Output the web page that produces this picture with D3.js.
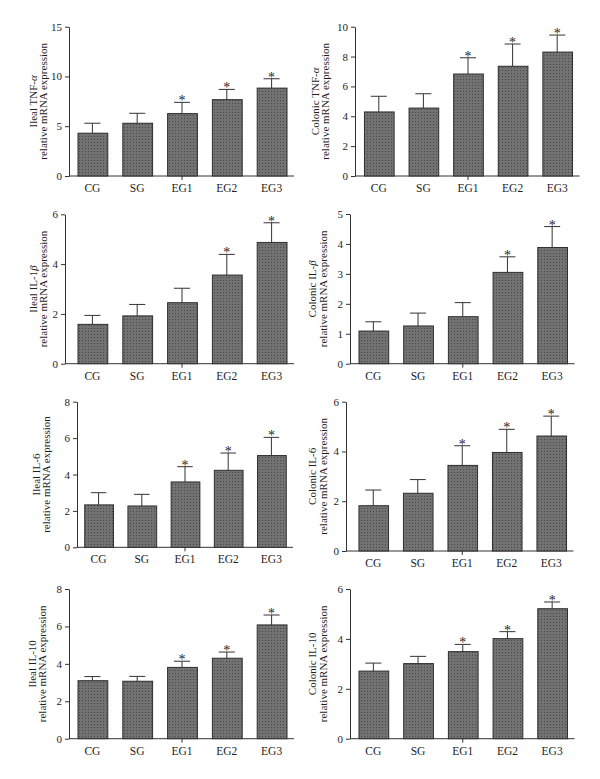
<!DOCTYPE html>
<html>
<head>
<meta charset="utf-8">
<script src="https://cdn.jsdelivr.net/npm/d3@7"></script>
<style>
html,body{margin:0;padding:0;background:#fff;}
svg{display:block;}
text{font-family:"Liberation Serif","Times New Roman",serif;fill:#1e1e1e;}
</style>
</head>
<body>
<svg id="chart" width="600" height="779"></svg>
<script>
// ---------------- data ----------------
const categories = ["CG", "SG", "EG1", "EG2", "EG3"];

const ilealTNF      = [4.30, 5.30, 6.27, 7.67, 8.83];
const ilealTNFSD    = [1.00, 1.00, 1.13, 1.03, 0.94];
const ilealTNFSig   = [false, false, true, true, true];
const ilealTNFTicks = [0, 5, 10, 15];

const colonicTNF      = [4.29, 4.55, 6.83, 7.35, 8.30];
const colonicTNFSD    = [1.05, 0.96, 1.09, 1.49, 1.14];
const colonicTNFSig   = [false, false, true, true, true];
const colonicTNFTicks = [0, 2, 4, 6, 8, 10];

const ilealIL1b      = [1.58, 1.92, 2.45, 3.56, 4.87];
const ilealIL1bSD    = [0.36, 0.46, 0.58, 0.83, 0.79];
const ilealIL1bSig   = [false, false, false, true, true];
const ilealIL1bTicks = [0, 2, 4, 6];

const colonicIL1b      = [1.09, 1.26, 1.57, 3.05, 3.88];
const colonicIL1bSD    = [0.31, 0.43, 0.47, 0.52, 0.70];
const colonicIL1bSig   = [false, false, false, true, true];
const colonicIL1bTicks = [0, 1, 2, 3, 4, 5];

const ilealIL6      = [2.33, 2.27, 3.59, 4.23, 5.04];
const ilealIL6SD    = [0.67, 0.64, 0.84, 0.95, 1.00];
const ilealIL6Sig   = [false, false, true, true, true];
const ilealIL6Ticks = [0, 2, 4, 6, 8];

const colonicIL6      = [1.82, 2.32, 3.44, 3.96, 4.62];
const colonicIL6SD    = [0.63, 0.55, 0.79, 0.93, 0.80];
const colonicIL6Sig   = [false, false, true, true, true];
const colonicIL6Ticks = [0, 2, 4, 6];

const ilealIL10      = [3.10, 3.07, 3.81, 4.30, 6.08];
const ilealIL10SD    = [0.22, 0.26, 0.33, 0.33, 0.53];
const ilealIL10Sig   = [false, false, true, true, true];
const ilealIL10Ticks = [0, 2, 4, 6, 8];

const colonicIL10      = [2.71, 3.01, 3.49, 4.01, 5.21];
const colonicIL10SD    = [0.32, 0.29, 0.29, 0.28, 0.27];
const colonicIL10Sig   = [false, false, true, true, true];
const colonicIL10Ticks = [0, 2, 4, 6];

// label: [plain part, italic greek part]
const labels = [
  ["Ileal TNF-", "\u03B1"],
  ["Colonic TNF-", "\u03B1"],
  ["Ileal IL-1", "\u03B2"],
  ["Colonic IL-", "\u03B2"],
  ["Ileal IL-6", ""],
  ["Colonic IL-6", ""],
  ["Ileal IL-10", ""],
  ["Colonic IL-10", ""]
];
const labelLine2 = "relative mRNA expression";

const panelData = [
  {v: ilealTNF,    sd: ilealTNFSD,    sig: ilealTNFSig,    ticks: ilealTNFTicks},
  {v: colonicTNF,  sd: colonicTNFSD,  sig: colonicTNFSig,  ticks: colonicTNFTicks},
  {v: ilealIL1b,   sd: ilealIL1bSD,   sig: ilealIL1bSig,   ticks: ilealIL1bTicks},
  {v: colonicIL1b, sd: colonicIL1bSD, sig: colonicIL1bSig, ticks: colonicIL1bTicks},
  {v: ilealIL6,    sd: ilealIL6SD,    sig: ilealIL6Sig,    ticks: ilealIL6Ticks},
  {v: colonicIL6,  sd: colonicIL6SD,  sig: colonicIL6Sig,  ticks: colonicIL6Ticks},
  {v: ilealIL10,   sd: ilealIL10SD,   sig: ilealIL10Sig,   ticks: ilealIL10Ticks},
  {v: colonicIL10, sd: colonicIL10SD, sig: colonicIL10Sig, ticks: colonicIL10Ticks}
];

// ---------------- layout ----------------
const layout = [
  {ax: 69,  b0: 70,  b1: 294,   yT: 26.7,  yB: 176,   l1: 33,  l2: 43},
  {ax: 355, b0: 356.5, b1: 579.5, yT: 26.7, yB: 176,  l1: 315, l2: 325},
  {ax: 65,  b0: 70,  b1: 294,   yT: 214.3, yB: 363.7, l1: 33,  l2: 43},
  {ax: 350, b0: 351, b1: 574.5, yT: 214,   yB: 363.7, l1: 312, l2: 323},
  {ax: 77,  b0: 77,  b1: 293,   yT: 401.7, yB: 547.3, l1: 36.7, l2: 46.7},
  {ax: 346, b0: 351, b1: 573.5, yT: 401.7, yB: 551,   l1: 312, l2: 323},
  {ax: 69,  b0: 70,  b1: 294,   yT: 589,   yB: 738.7, l1: 32,  l2: 42},
  {ax: 350, b0: 351, b1: 574.5, yT: 589,   yB: 738.7, l1: 312, l2: 323}
];

const svg = d3.select("#chart");

// dotted fill pattern
const defs = svg.append("defs");
const pat = defs.append("pattern")
  .attr("id", "dots").attr("width", 3).attr("height", 3)
  .attr("patternUnits", "userSpaceOnUse");
pat.append("rect").attr("width", 3).attr("height", 3).attr("fill", "#727272");
pat.append("rect").attr("x", 1).attr("y", 1).attr("width", 1).attr("height", 1).attr("fill", "#484848");

const axisColor = "#333";

panelData.forEach((pd, i) => {
  const L = layout[i];
  const g = svg.append("g");
  const maxV = pd.ticks[pd.ticks.length - 1];

  const x = d3.scaleBand().domain(categories).range([L.b0, L.b1]).paddingInner(0.335).paddingOuter(0.1675);
  const y = d3.scaleLinear().domain([0, maxV]).range([L.yB, L.yT]);

  // y axis
  const yAxis = d3.axisLeft(y).tickValues(pd.ticks).tickFormat(d3.format("d"))
    .tickSize(4).tickSizeOuter(0).tickPadding(3);
  const yg = g.append("g").attr("transform", `translate(${L.ax},0)`).call(yAxis);
  yg.select(".domain").attr("stroke", axisColor);
  yg.selectAll(".tick line").attr("stroke", axisColor);
  yg.selectAll(".tick text").attr("font-family", "Liberation Serif").attr("font-size", 11).attr("fill", "#1e1e1e");

  // x axis line
  g.append("line").attr("x1", L.ax).attr("x2", L.b1).attr("y1", L.yB).attr("y2", L.yB)
    .attr("stroke", axisColor).attr("stroke-width", 1);
  // middle tick (as in original)
  const mid = categories[2];
  g.append("line").attr("x1", x(mid) + x.bandwidth() / 2).attr("x2", x(mid) + x.bandwidth() / 2)
    .attr("y1", L.yB).attr("y2", L.yB + 4).attr("stroke", axisColor);

  // category labels
  g.selectAll("text.cat").data(categories).join("text")
    .attr("class", "cat")
    .attr("x", d => x(d) + x.bandwidth() / 2)
    .attr("y", L.yB + 16)
    .attr("text-anchor", "middle")
    .attr("font-size", 11.5)
    .text(d => d);

  const rows = categories.map((c, k) => ({c, v: pd.v[k], sd: pd.sd[k], sig: pd.sig[k]}));

  // error bars (upper only)
  const capHalf = x.bandwidth() * 0.27;
  rows.forEach(r => {
    const cx = x(r.c) + x.bandwidth() / 2;
    g.append("line").attr("x1", cx).attr("x2", cx).attr("y1", y(r.v)).attr("y2", y(r.v + r.sd))
      .attr("stroke", "#333").attr("stroke-width", 1);
    g.append("line").attr("x1", cx - capHalf).attr("x2", cx + capHalf)
      .attr("y1", y(r.v + r.sd)).attr("y2", y(r.v + r.sd))
      .attr("stroke", "#333").attr("stroke-width", 1);
    if (r.sig) {
      g.append("text").attr("x", cx).attr("y", y(r.v + r.sd) + 3)
        .attr("text-anchor", "middle").attr("font-size", 14).attr("fill", "#333").text("*");
    }
  });

  // bars
  g.selectAll("rect.bar").data(rows).join("rect")
    .attr("class", "bar")
    .attr("x", d => x(d.c) + 0.5)
    .attr("y", d => y(d.v))
    .attr("width", x.bandwidth())
    .attr("height", d => y(0) - y(d.v))
    .attr("fill", "url(#dots)")
    .attr("stroke", "#2e2e2e")
    .attr("stroke-width", 1);

  // y label (two lines, rotated)
  const cy = (L.yT + L.yB) / 2;
  const t1 = g.append("text")
    .attr("transform", `translate(${L.l1 + 3.5},${cy}) rotate(-90)`)
    .attr("text-anchor", "middle").attr("font-size", 11);
  t1.append("tspan").text(labels[i][0]);
  if (labels[i][1]) t1.append("tspan").attr("font-style", "italic").text(labels[i][1]);
  g.append("text")
    .attr("transform", `translate(${L.l2 + 3.5},${cy}) rotate(-90)`)
    .attr("text-anchor", "middle").attr("font-size", 11)
    .text(labelLine2);
});
</script>
</body>
</html>
